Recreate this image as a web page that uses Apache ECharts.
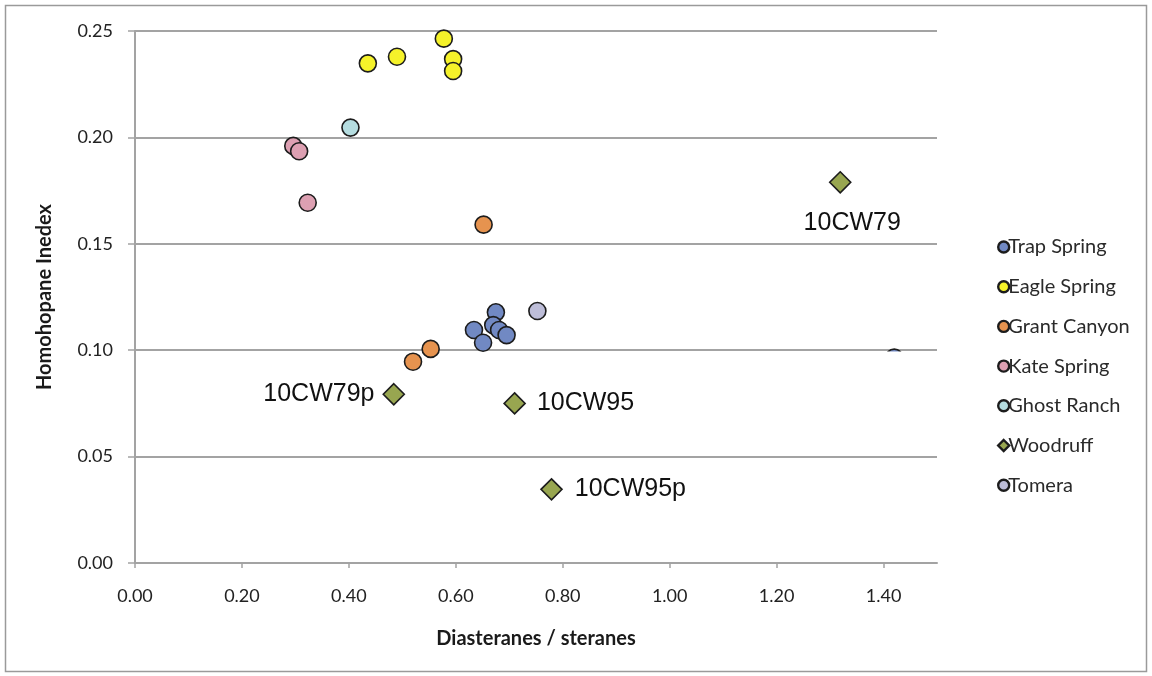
<!DOCTYPE html>
<html>
<head>
<meta charset="utf-8">
<title>Homohopane Index vs Diasteranes</title>
<script src="https://cdn.jsdelivr.net/npm/echarts@6/dist/echarts.min.js"></script>
<style>
  html, body { margin: 0; padding: 0; background: #fff; }
  #chart { width: 1152px; height: 676px; }
</style>
</head>
<body>
<div id="chart"></div>
<script>
// values: [diasteranes/steranes, homohopane index]
const trapSpring = [[0.634, 0.1095], [0.651, 0.1035], [0.675, 0.1178], [0.670, 0.1118], [0.681, 0.1095], [0.695, 0.1071], [1.42, 0.0965]];
const eagleSpring = [[0.4355, 0.2348], [0.490, 0.2379], [0.5776, 0.2464], [0.595, 0.2368], [0.595, 0.2312]];
const grantCanyon = [[0.520, 0.0946], [0.553, 0.1006], [0.652, 0.159]];
const kateSpring = [[0.296, 0.196], [0.307, 0.1935], [0.323, 0.1693]];
const ghostRanch = [[0.403, 0.2046]];
const woodruff = [[1.319, 0.1789], [0.484, 0.0793], [0.710, 0.0750], [0.779, 0.0346]];
const woodruffNames = ['10CW79', '10CW79p', '10CW95', '10CW95p'];
const tomera = [[0.7526, 0.1184]];

const seriesNames = ['Trap Spring', 'Eagle Spring', 'Grant Canyon', 'Kate Spring', 'Ghost Ranch', 'Woodruff', 'Tomera'];
const seriesColors = ['#7189c3', '#f5f22a', '#e6934f', '#dda0b2', '#b5dde0', '#98a650', '#bdbdd8'];

const chart = echarts.init(document.getElementById('chart'));

// label placement for the woodruff sample names
const woodruffLabels = [
  { position: 'inside', offset: [12, 41] },
  { position: 'left', distance: 8 },
  { position: 'right', distance: 11 },
  { position: 'right', distance: 12 }
];

function circleSeries(name, data, color) {
  return {
    name: name,
    type: 'scatter',
    symbol: 'circle',
    symbolSize: 17,
    itemStyle: { color: color, borderColor: '#1c1c1c', borderWidth: 1.6, opacity: 1 },
    data: data
  };
}

const series = [
  circleSeries('Trap Spring', trapSpring, seriesColors[0]),
  circleSeries('Eagle Spring', eagleSpring, seriesColors[1]),
  circleSeries('Grant Canyon', grantCanyon, seriesColors[2]),
  circleSeries('Kate Spring', kateSpring, seriesColors[3]),
  circleSeries('Ghost Ranch', ghostRanch, seriesColors[4]),
  {
    name: 'Woodruff',
    type: 'scatter',
    symbol: 'diamond',
    symbolSize: [21, 21],
    itemStyle: { color: seriesColors[5], borderColor: '#1c1c1c', borderWidth: 1.6, opacity: 1 },
    data: woodruff.map((p, i) => ({
      value: p,
      label: Object.assign({
        show: true,
        formatter: woodruffNames[i],
        fontFamily: 'Liberation Sans',
        fontSize: 25,
        color: '#111'
      }, woodruffLabels[i])
    }))
  },
  circleSeries('Tomera', tomera, seriesColors[6])
];

const option = {
  backgroundColor: '#fff',
  animation: false,
  grid: { left: 135, right: 215, top: 31, bottom: 113 },
  legend: {
    orient: 'vertical',
    left: 992,
    top: 231,
    data: seriesNames,
    itemWidth: 11,
    itemHeight: 11,
    itemGap: 17.7,
    itemStyle: { borderWidth: 2.4, borderColor: '#1c1c1c' },
    textStyle: { fontFamily: 'Lato', fontSize: 20, color: '#2a2a2a', lineHeight: 22, padding: [0, 0, 0, -6] }
  },
  xAxis: {
    type: 'value',
    min: 0,
    max: 1.5,
    interval: 0.2,
    name: 'Diasteranes / steranes',
    nameLocation: 'middle',
    nameGap: 66,
    nameTextStyle: { fontFamily: 'Lato', fontWeight: 'bold', fontSize: 20, color: '#1a1a1a' },
    axisLine: { show: true, lineStyle: { color: '#a3a3a3', width: 2 } },
    axisTick: { show: true, length: 5, inside: false, lineStyle: { color: '#a3a3a3', width: 1.5 } },
    splitLine: { show: false },
    axisLabel: {
      margin: 24,
      fontFamily: 'Lato',
      fontSize: 18,
      color: '#222',
      showMaxLabel: false,
      formatter: v => v.toFixed(2)
    }
  },
  yAxis: {
    type: 'value',
    min: 0,
    max: 0.25,
    interval: 0.05,
    name: 'Homohopane Inedex',
    nameLocation: 'middle',
    nameGap: 80,
    nameRotate: 90,
    nameTextStyle: { fontFamily: 'Lato', fontWeight: 'bold', fontSize: 20, color: '#1a1a1a' },
    axisLine: { show: true, lineStyle: { color: '#a3a3a3', width: 2 } },
    axisTick: { show: true, length: 7, lineStyle: { color: '#a3a3a3', width: 1.5 } },
    splitLine: { show: true, lineStyle: { color: '#a3a3a3', width: 2 } },
    axisLabel: {
      margin: 22,
      fontFamily: 'Lato',
      fontSize: 18,
      color: '#222',
      formatter: v => v.toFixed(2)
    }
  },
  graphic: [
    {
      type: 'rect',
      z: 100,
      shape: { x: 860, y: 351.5, width: 78, height: 20 },
      style: { fill: '#fff' }
    },
    {
      type: 'rect',
      z: 100,
      shape: { x: 5.5, y: 5.5, width: 1141, height: 666 },
      style: { fill: 'none', stroke: '#9a9a9a', lineWidth: 1.5 }
    }
  ],
  series: series
};

chart.setOption(option);
</script>
</body>
</html>
